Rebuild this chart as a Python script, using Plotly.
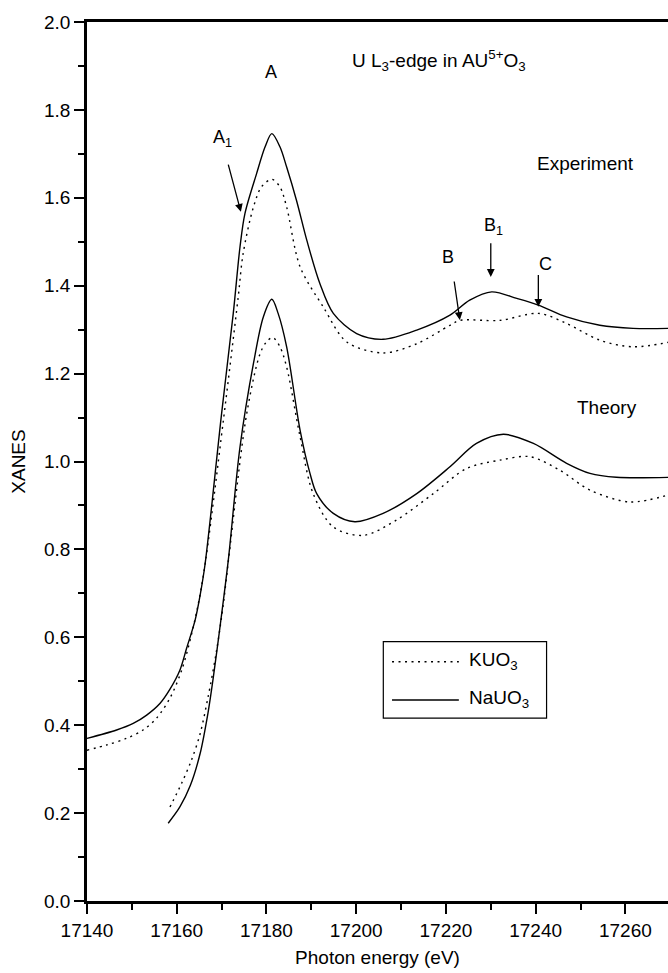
import plotly.graph_objects as go

# ---------------- data ----------------
# Experiment, NaUO3 (solid)
exp_na_energy = [17140.0, 17146.6, 17150.3, 17153.3, 17156.3, 17158.5, 17160.7, 17162.2,
                 17164.1, 17165.2, 17166.3, 17170.0, 17172.6, 17174.1, 17175.2,
                 17177.8, 17179.7, 17181.2, 17183.0, 17184.5, 17186.7, 17189.0, 17191.9,
                 17194.9, 17200.1, 17206.0, 17213.5, 17220.9, 17225.3, 17230.2, 17235.8,
                 17240.6, 17246.9, 17254.3, 17261.7, 17270.0]
exp_na_xanes = [0.370, 0.389, 0.404, 0.423, 0.450, 0.482, 0.525, 0.575,
                0.639, 0.695, 0.765, 1.109, 1.337, 1.488, 1.564,
                1.655, 1.716, 1.746, 1.716, 1.670, 1.594, 1.503, 1.405,
                1.337, 1.291, 1.278, 1.299, 1.333, 1.367, 1.386, 1.371,
                1.356, 1.329, 1.310, 1.303, 1.303]

# Experiment, KUO3 (dotted)
exp_k_energy = [17140.0, 17144.4, 17148.8, 17152.5, 17155.5, 17158.5, 17161.1,
                17163.7, 17165.9, 17170.4, 17173.7, 17174.8, 17177.1, 17178.9,
                17181.2, 17183.0, 17184.5, 17187.5, 17192.7, 17197.9, 17206.0, 17213.5,
                17220.9, 17223.1, 17232.0, 17240.6, 17246.9, 17254.3, 17261.7, 17270.0]
exp_k_xanes = [0.343, 0.355, 0.370, 0.389, 0.416, 0.462, 0.525,
               0.624, 0.738, 1.094, 1.374, 1.473, 1.579, 1.625,
               1.642, 1.625, 1.579, 1.443, 1.351, 1.272, 1.247, 1.268,
               1.310, 1.321, 1.321, 1.337, 1.314, 1.276, 1.261, 1.272]

# Theory, NaUO3 (solid)
th_na_energy = [17158.1, 17160.7, 17163.0, 17165.2, 17167.0, 17168.1, 17169.6, 17171.5,
                17174.1, 17177.1, 17179.3, 17181.2, 17182.6, 17184.5, 17187.5, 17189.7,
                17191.2, 17194.9, 17199.7, 17206.0, 17213.5, 17220.9, 17226.8, 17232.8,
                17239.5, 17246.9, 17252.1, 17258.0, 17270.0]
th_na_xanes = [0.177, 0.214, 0.262, 0.335, 0.430, 0.505, 0.620, 0.776,
               1.033, 1.223, 1.329, 1.369, 1.337, 1.261, 1.071, 0.973,
               0.927, 0.882, 0.863, 0.882, 0.927, 0.988, 1.041, 1.062,
               1.041, 0.996, 0.973, 0.964, 0.964]

# Theory, KUO3 (dotted)
th_k_energy = [17158.5, 17161.1, 17163.3, 17165.2, 17167.0, 17168.9, 17170.4, 17171.7,
               17175.6, 17178.6, 17180.0, 17181.4, 17183.0, 17184.5, 17187.5, 17190.4,
               17194.9, 17201.6, 17209.0, 17217.2, 17224.6, 17232.0, 17238.7, 17245.4,
               17252.1, 17261.0, 17270.0]
th_k_xanes = [0.214, 0.268, 0.321, 0.380, 0.465, 0.571, 0.677, 0.790,
              1.109, 1.246, 1.272, 1.282, 1.261, 1.215, 1.056, 0.927,
              0.851, 0.832, 0.867, 0.927, 0.984, 1.003, 1.011, 0.980,
              0.935, 0.908, 0.925]

# Spectral feature labels: text position, arrow tail and arrow head (eV, XANES)
feature_labels = ["A<sub>1</sub>", "B", "B<sub>1</sub>", "C"]
feature_text_e = [17170.1, 17220.5, 17230.7, 17242.1]
feature_text_y = [1.735, 1.466, 1.535, 1.450]
arrow_tail_e = [17171.4, 17221.8, 17230.0, 17240.6]
arrow_tail_y = [1.679, 1.413, 1.500, 1.428]
arrow_head_e = [17174.3, 17223.1, 17230.0, 17240.6]
arrow_head_y = [1.568, 1.322, 1.420, 1.352]

legend_names = ["KUO<sub>3</sub>", "NaUO<sub>3</sub>"]

FONT = "Liberation Sans, Arial, sans-serif"
DOT = "2px,4.5px"

fig = go.Figure()

curves = [
    (exp_k_energy, exp_k_xanes, DOT),
    (exp_na_energy, exp_na_xanes, "solid"),
    (th_k_energy, th_k_xanes, DOT),
    (th_na_energy, th_na_xanes, "solid"),
]
for e, v, dash in curves:
    fig.add_trace(go.Scatter(
        x=e, y=v, mode="lines", showlegend=False,
        line=dict(color="black", width=1.4, dash=dash, shape="spline", smoothing=0.9),
        hoverinfo="skip",
    ))

annotations = []
# main peak label
annotations.append(dict(x=17181.0, y=1.886, xref="x", yref="y", text="A",
                        showarrow=False, font=dict(size=18, family=FONT, color="black")))
for lab, tx, ty, ax_, ay_, hx, hy in zip(feature_labels, feature_text_e, feature_text_y,
                                          arrow_tail_e, arrow_tail_y, arrow_head_e, arrow_head_y):
    annotations.append(dict(x=tx, y=ty, xref="x", yref="y", text=lab, showarrow=False,
                            font=dict(size=18, family=FONT, color="black")))
    annotations.append(dict(x=hx, y=hy, xref="x", yref="y", ax=ax_, ay=ay_,
                            axref="x", ayref="y", text="", showarrow=True,
                            arrowhead=2, arrowsize=1.2, arrowwidth=1.3,
                            arrowcolor="black", standoff=0, startstandoff=0))

annotations.append(dict(x=17198.6, y=1.912, xref="x", yref="y", xanchor="left",
                        text="U L<sub>3</sub>-edge in AU<sup>5+</sup>O<sub>3</sub>",
                        showarrow=False, font=dict(size=19, family=FONT, color="black")))
annotations.append(dict(x=17251.2, y=1.679, xref="x", yref="y", text="Experiment",
                        showarrow=False, font=dict(size=19, family=FONT, color="black")))
annotations.append(dict(x=17256.0, y=1.124, xref="x", yref="y", text="Theory",
                        showarrow=False, font=dict(size=19, family=FONT, color="black")))

# boxed key for the two compounds
shapes = [dict(type="rect", xref="paper", yref="paper", x0=0.510, x1=0.791,
               y0=0.208, y1=0.295, line=dict(color="black", width=1.2),
               fillcolor="white", layer="above")]
key_rows_y = [0.2722, 0.2287]
key_dash = [DOT, "solid"]
for name, ry, dash in zip(legend_names, key_rows_y, key_dash):
    shapes.append(dict(type="line", xref="paper", yref="paper", x0=0.525, x1=0.640,
                       y0=ry, y1=ry, line=dict(color="black", width=1.4, dash=dash),
                       layer="above"))
    annotations.append(dict(x=0.6535, y=ry, xref="paper", yref="paper", xanchor="left",
                            yshift=-13, text=name, showarrow=False,
                            font=dict(size=19, family=FONT, color="black")))

fig.update_layout(
    width=668, height=973,
    margin=dict(l=87, r=0, t=22, b=72),
    paper_bgcolor="white", plot_bgcolor="white",
    font=dict(family=FONT, color="black", size=19),
    annotations=annotations, shapes=shapes,
    showlegend=False,
)
fig.update_xaxes(
    range=[17140, 17269.5], tick0=17140, dtick=20, tickformat="d",
    showline=True, linecolor="black", linewidth=2.5, mirror=True,
    ticks="outside", ticklen=10, tickwidth=2, tickcolor="black",
    minor=dict(dtick=10, ticks="outside", ticklen=6, tickwidth=2, tickcolor="black"),
    showgrid=False, zeroline=False,
    tickfont=dict(size=19, family=FONT, color="black"),
    title=dict(text="Photon energy (eV)", font=dict(size=19, family=FONT, color="black"),
               standoff=12),
)
fig.update_yaxes(
    range=[0, 2.0], tick0=0, dtick=0.2, tickformat=".1f",
    showline=True, linecolor="black", linewidth=2.5,
    ticks="outside", ticklen=10, tickwidth=2, tickcolor="black",
    minor=dict(dtick=0.1, ticks="outside", ticklen=6, tickwidth=2, tickcolor="black"),
    showgrid=False, zeroline=False,
    tickfont=dict(size=19, family=FONT, color="black"),
    title=dict(text="XANES", font=dict(size=19, family=FONT, color="black"), standoff=14),
)

fig.write_html("out.html")
